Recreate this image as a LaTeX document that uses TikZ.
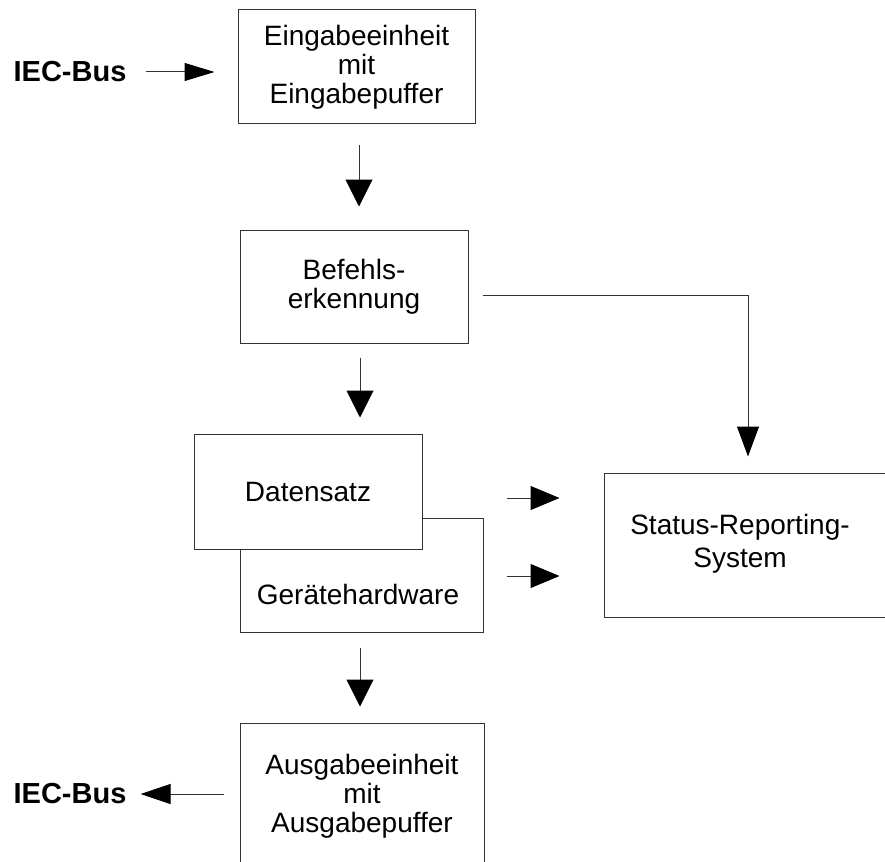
\documentclass[tikz,border=0pt]{standalone}
\usepackage{fontspec}
\setmainfont{Liberation Sans}
\usetikzlibrary{arrows.meta,calc}
\tikzset{
  box/.style={draw=black!80, line width=1pt, fill=white, inner sep=0pt, align=center,
              font=\fontsize{28}{29}\selectfont},
  txt/.style={inner sep=0pt, align=center, font=\fontsize{28}{29}\selectfont},
  bus/.style={inner sep=0pt, font=\fontsize{29}{30}\selectfont\bfseries},
  conn/.style={draw=black!80, line width=1pt},
  arr/.style={conn, -{Triangle[length=29pt,width=24pt,black]}},
  arrd/.style={conn, -{Triangle[length=27pt,width=27pt,black]}},
}
\begin{document}
\begin{tikzpicture}[x=1pt,y=-1pt]
\useasboundingbox (0,0) rectangle (885,861);
\clip (0,0) rectangle (885,861);
\fill[white] (0,0) rectangle (885,861);

% boxes
\node[box, minimum width=237, minimum height=114] (ein) at (356.5,67) {Eingabeeinheit\\mit\\Eingabepuffer};
\node[box, minimum width=228, minimum height=113] (bef) at (354,286.5) {Befehls-\\erkennung};
\node[box, minimum width=243, minimum height=114] (gh) at (361.5,575) {};
\node[txt] (ghtext) at (358,594) {Gerätehardware};
\node[box, minimum width=228, minimum height=115] (ds) at (308,491.5) {Datensatz};
\node[box, minimum width=296, minimum height=144] (status) at (752,545) {};
\node[txt, font=\fontsize{28}{33}\selectfont] (sttext) at (740,544) {Status-Reporting-\\System};
\node[box, minimum width=244, minimum height=146] (aus) at (362,796) {Ausgabeeinheit\\mit\\Ausgabepuffer};

% bus labels
\node[bus] (iecin) at (70,72) {IEC-Bus};
\node[bus] (iecout) at (70,794) {IEC-Bus};

% connectors
\draw[conn, -{Triangle[length=30pt,width=18pt,black]}] ([xshift=19pt]iecin.east) -- ([xshift=-23pt]iecin.east -| ein.west);
\draw[arrd] ([shift={(2.5,21)}]ein.south) -- ([shift={(5,-23)}]bef.north);
\draw[arrd] ([shift={(6,14)}]bef.south) -- ([shift={(52,-16)}]ds.north);
\draw[conn, -{Triangle[length=30pt,width=22pt,black]}] ([shift={(14,8.5)}]bef.east) -| ([shift={(-4,-16)}]status.north);
\draw[arr] ([shift={(23,-77)}]gh.east) -- ([shift={(-44,-47)}]status.west);
\draw[arr] ([shift={(23,1)}]gh.east) -- ([shift={(-44,31)}]status.west);
\draw[arrd] ([shift={(-1.5,15)}]gh.south) -- ([shift={(-2,-16)}]aus.north);
\draw[conn, -{Triangle[length=30pt,width=20pt,black]}] ([shift={(-16,-2)}]aus.west) -- ([xshift=14pt]iecout.east);
\end{tikzpicture}
\end{document}
